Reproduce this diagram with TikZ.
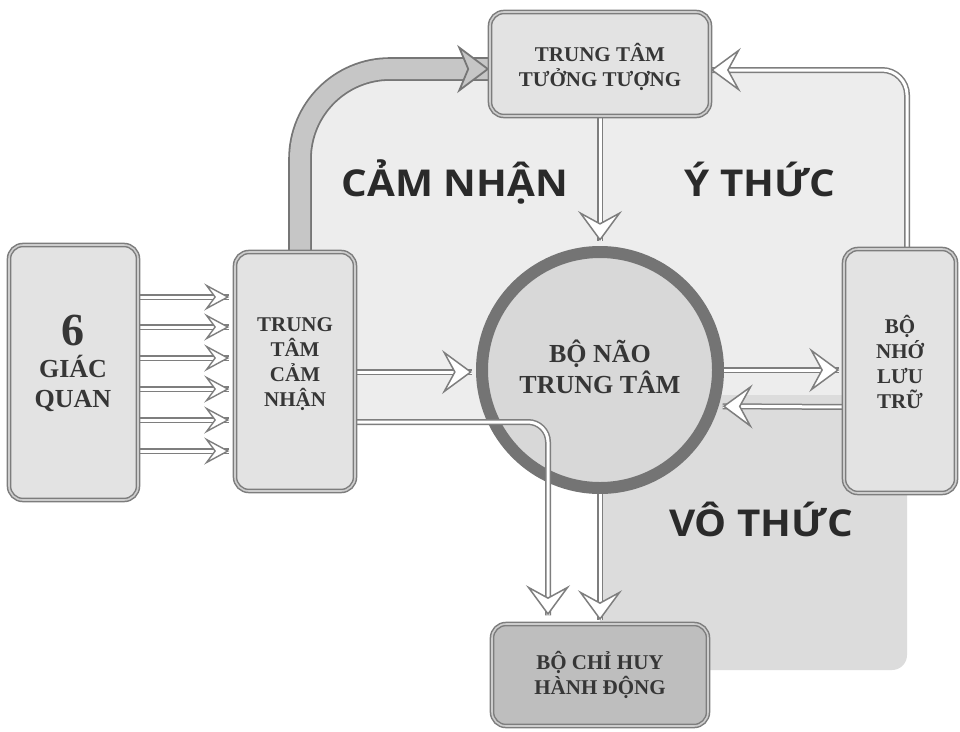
\documentclass[tikz,border=0pt]{standalone}
\usepackage{fontspec}
\setmainfont{Liberation Serif}
\newfontfamily\labfont{Open Sans}[FakeStretch=1.09]
\usetikzlibrary{arrows.meta}
\definecolor{bgup}{HTML}{EDEDED}
\definecolor{bglow}{HTML}{DCDCDC}
\definecolor{boxfill}{HTML}{E3E3E3}
\definecolor{boxline}{HTML}{7D7D7D}
\definecolor{boxgap}{HTML}{CDCDCD}
\definecolor{actfill}{HTML}{BEBEBE}
\definecolor{brainfill}{HTML}{D8D8D8}
\definecolor{ring}{HTML}{747474}
\definecolor{arr}{HTML}{7E7E7E}
\definecolor{tk}{HTML}{767676}
\definecolor{tkfill}{HTML}{C6C6C6}
\definecolor{txt}{HTML}{363636}
\definecolor{labtxt}{HTML}{2A2A2A}
\begin{document}
\begin{tikzpicture}[x=1pt,y=-1pt,
  box/.style={draw=boxline, line width=1.5pt, double=boxgap, double distance=1.6pt,
    rounded corners=14pt, fill=boxfill, inner sep=0pt},
  btext/.style={text=txt, align=center, font=\fontsize{21}{25}\selectfont\bfseries, inner sep=0pt},
  lab/.style={text=labtxt, font=\labfont\bfseries\fontsize{37}{40}\selectfont, inner sep=0pt, anchor=base},
  shaft/.style={draw=arr, line width=1.5pt, double=white, double distance=3pt},
  tipbig/.style={draw=white, line width=1pt,
    -{Stealth[length=30pt, width=44pt, inset=12pt, color=arr, fill=white, line width=1.5pt]}},
  tipsmall/.style={draw=white, line width=1pt,
    -{Stealth[length=25pt, width=27pt, inset=10pt, color=arr, fill=white, line width=1.4pt]}},
  fatarrow/.style={draw=tk, line width=1.8pt, double=tkfill, double distance=20pt},
  fattip/.style={draw=tkfill, line width=17pt,
    -{Stealth[length=32pt, width=48pt, inset=10pt, color=tk, fill=tkfill, line width=1.8pt]}}
]
\fill[white] (0,0) rectangle (960,731);
\path[use as bounding box] (0,0) rectangle (960,731);

% background regions
\fill[bgup] (300,422) -- (300,159) arc[start angle=180, end angle=270, radius=90]
  -- (882,69) arc[start angle=270, end angle=360, radius=25] -- (907,422) -- cycle;
\fill[bglow, rounded corners=15pt] (600,395) rectangle (907,670);

% central brain
\node[circle, draw=ring, line width=12pt, fill=brainfill, minimum size=236pt, inner sep=0pt] (brain) at (600,370) {};

% box geometry for anchors
\path (73.5,372.5) node[minimum width=129pt, minimum height=255pt, inner sep=0pt, outer sep=0.75pt] (sen) {};
\path (295,371.5) node[minimum width=120pt, minimum height=239pt, inner sep=0pt, outer sep=0.75pt] (sc) {};
\path (600,64) node[minimum width=220pt, minimum height=104pt, inner sep=0pt, outer sep=0.75pt] (imag) {};
\path (900,371) node[minimum width=112pt, minimum height=244pt, inner sep=0pt, outer sep=0.75pt] (mem) {};
\path (600,675) node[minimum width=216pt, minimum height=102pt, inner sep=0pt, outer sep=0.75pt] (act) {};

\coordinate (scw) at ([xshift=-5pt]sc.west);
\coordinate (bw) at ([xshift=-4pt]brain.west);
\coordinate (bn) at ([yshift=5pt]brain.north);
\coordinate (mw) at ([xshift=-4pt]mem.west);
\coordinate (br) at ([xshift=4pt]brain.-17.4);
\coordinate (an) at ([yshift=3pt]act.north);
\coordinate (an2) at ([xshift=-52pt,yshift=8pt]act.north);
\coordinate (mn) at ([xshift=7pt]mem.north);
\coordinate (scn) at ([xshift=5pt]sc.north);

% thick curved arrow
\draw[fatarrow, rounded corners=90pt] (scn) |- (imag.west |- 0,69);
\draw[fattip, rounded corners=90pt] (scn) |- (imag.west |- 0,69);

% six input arrows
\foreach \yy in {297,327,358,389,420,451}{
  \draw[shaft] (sen.east |- 0,\yy) -- (scw |- 0,\yy);
  \draw[tipsmall] (sen.east |- 0,\yy) -- (scw |- 0,\yy);
}

% other arrows
\draw[shaft] (sc.east |- 0,372) -- (bw |- 0,372);
\draw[tipbig] (sc.east |- 0,372) -- (bw |- 0,372);

\draw[shaft] (imag.south) -- (bn);
\draw[tipbig] (imag.south) -- (bn);

\draw[shaft] (brain.east) -- (mw |- brain.east);
\draw[tipbig] (brain.east) -- (mw |- brain.east);

\draw[shaft] (mem.west |- 0,407) -- (br);
\draw[tipbig] (mem.west |- 0,407) -- (br);

\draw[shaft] (brain.south) -- (an);
\draw[tipbig] (brain.south) -- (an);

\draw[shaft, rounded corners=20pt] (sc.east |- 0,422) -| (an2);
\draw[tipbig, rounded corners=20pt] (sc.east |- 0,422) -| (an2);

\draw[shaft, rounded corners=25pt] (mn) |- (imag.east |- 0,70);
\draw[tipbig, rounded corners=25pt] (mn) |- (imag.east |- 0,70);

% visible boxes
\node[box, minimum width=129pt, minimum height=255pt] (senB) at (73.5,372.5) {};
\node[box, minimum width=120pt, minimum height=239pt] (scB) at (295,371.5) {};
\node[box, minimum width=220pt, minimum height=104pt] (imagB) at (600,64) {};
\node[box, minimum width=112pt, minimum height=244pt] (memB) at (900,371) {};
\node[box, fill=actfill, minimum width=216pt, minimum height=102pt] (actB) at (600,675) {};

% texts
\node[btext, font=\fontsize{46}{46}\selectfont\bfseries] (six) at (73,330) {6};
\node[btext, font=\fontsize{26}{30}\selectfont\bfseries] (gq) at (73,383) {GIÁC\\QUAN};
\node[btext] (scT) at (295,364) {TRUNG\\TÂM\\CẢM\\NHẬN};
\node[btext] (imagT) at (600,67) {TRUNG TÂM\\TƯỞNG TƯỢNG};
\node[btext] (memT) at (900,362) {BỘ\\NHỚ\\LƯU\\TRỮ};
\node[btext] (actT) at (600,675) {BỘ CHỈ HUY\\HÀNH ĐỘNG};
\node[btext, font=\fontsize{26}{31}\selectfont\bfseries] (brainT) at (600,367) {BỘ NÃO\\TRUNG TÂM};

\node[lab] (l1) at (455,196) {CẢM NHẬN};
\node[lab] (l2) at (760,196) {Ý THỨC};
\node[lab] (l3) at (761,536) {VÔ THỨC};
\end{tikzpicture}
\end{document}
